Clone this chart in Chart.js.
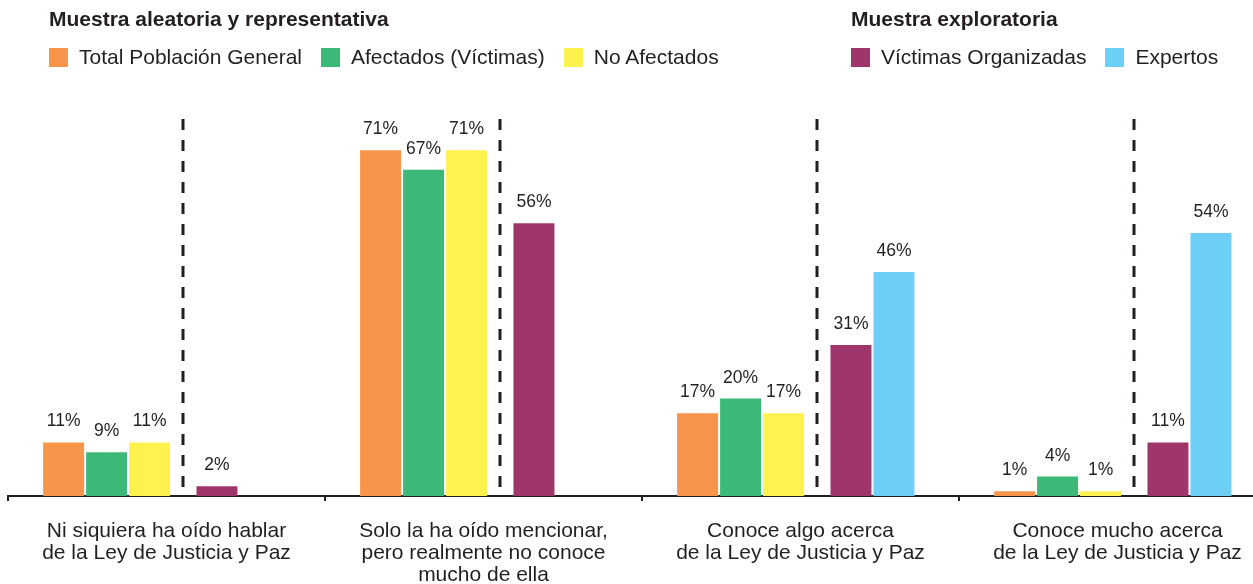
<!DOCTYPE html>
<html lang="es">
<head>
<meta charset="utf-8">
<title>Conocimiento de la Ley de Justicia y Paz</title>
<script src="https://cdn.jsdelivr.net/npm/chart.js@4.4.1/dist/chart.umd.min.js"></script>
<style>
    body { margin: 0; background: #fff; overflow: hidden; font-family: 'Liberation Sans', Arial, sans-serif; color: #231f20; }
    #wrap { position: relative; width: 1276px; height: 584px; }
    .legend { position: absolute; top: 8px; z-index: 2; }
    .legend h4 { margin: 0; font-size: 21px; font-weight: bold; line-height: 22px; white-space: nowrap; }
    .legend .items { display: flex; align-items: center; margin-top: 16px; font-size: 21px; line-height: 22px; white-space: nowrap; }
    .legend .item { display: flex; align-items: center; margin-right: 19px; }
    .legend .sw { width: 19px; height: 19px; margin-right: 11px; }
</style>
</head>
<body>
<div id="wrap">
    <div class="legend" id="legendA" style="left: 49px;"></div>
    <div class="legend" id="legendB" style="left: 851px;"></div>
    <canvas id="chart"></canvas>
</div>
<script>
const categories = [
    ['Ni siquiera ha oído hablar', 'de la Ley de Justicia y Paz'],
    ['Solo la ha oído mencionar,', 'pero realmente no conoce', 'mucho de ella'],
    ['Conoce algo acerca', 'de la Ley de Justicia y Paz'],
    ['Conoce mucho acerca', 'de la Ley de Justicia y Paz']
];

// Muestra aleatoria y representativa
const totalPoblacion = [11, 71, 17, 1];
const afectados = [9, 67, 20, 4];
const noAfectados = [11, 71, 17, 1];

// Muestra exploratoria
const victimasOrganizadas = [2, 56, 31, 11];
const expertos = [null, null, 46, 54];

const groupTitles = ['Muestra aleatoria y representativa', 'Muestra exploratoria'];

const colors = {
    total: '#f7964a',
    afectados: '#3cb878',
    noAfectados: '#fff250',
    victimas: '#9e366b',
    expertos: '#6dcff6'
};
const textColor = '#231f20';

const seriesA = [
    { label: 'Total Población General', data: totalPoblacion, color: colors.total },
    { label: 'Afectados (Víctimas)', data: afectados, color: colors.afectados },
    { label: 'No Afectados', data: noAfectados, color: colors.noAfectados }
];
const seriesB = [
    { label: 'Víctimas Organizadas', data: victimasOrganizadas, color: colors.victimas },
    { label: 'Expertos', data: expertos, color: colors.expertos }
];

function buildLegend(el, title, series) {
    const h = document.createElement('h4');
    h.textContent = title;
    el.appendChild(h);
    const row = document.createElement('div');
    row.className = 'items';
    series.forEach(s => {
        const item = document.createElement('div');
        item.className = 'item';
        const sw = document.createElement('span');
        sw.className = 'sw';
        sw.style.background = s.color;
        const txt = document.createElement('span');
        txt.textContent = s.label;
        item.appendChild(sw);
        item.appendChild(txt);
        row.appendChild(item);
    });
    el.appendChild(row);
}
buildLegend(document.getElementById('legendA'), groupTitles[0], seriesA);
buildLegend(document.getElementById('legendB'), groupTitles[1], seriesB);

// layout inside a category, in category widths
const slot = 0.1356;          // one bar + its gap
const centerA = -0.189;       // representative sample, left of the divider
const centerB = 0.227;        // exploratory sample, right of the divider

// every series gets its own hidden index scale, shifted to its slot
const hiddenIndexAxis = (shift) => ({
    type: 'linear',
    display: false,
    offset: false,
    bounds: 'data',
    min: -0.5 - shift,
    max: categories.length - 0.5 - shift,
    afterBuildTicks(scale) {
        scale.ticks = categories.map((_, i) => ({ value: i }));
    }
});

const datasets = [];
const scales = {};
function addSeries(s, id, shift) {
    scales[id] = hiddenIndexAxis(shift);
    datasets.push({
        label: s.label,
        data: s.data.map((v, i) => ({ x: i, y: v })),
        backgroundColor: s.color,
        xAxisID: id,
        grouped: false,
        categoryPercentage: slot,
        barPercentage: 0.953
    });
}
seriesA.forEach((s, k) => addSeries(s, 'xa' + k, centerA + (k - 1) * slot));
seriesB.forEach((s, k) => addSeries(s, 'xb' + k, centerB + (k - 0.5) * slot));

const valueLabels = {
    id: 'valueLabels',
    afterDatasetsDraw(chart) {
        const ctx = chart.ctx;
        ctx.save();
        ctx.font = '17.5px "Liberation Sans", Arial, sans-serif';
        ctx.fillStyle = textColor;
        ctx.textAlign = 'center';
        ctx.textBaseline = 'alphabetic';
        chart.data.datasets.forEach((ds, i) => {
            const meta = chart.getDatasetMeta(i);
            meta.data.forEach((bar, j) => {
                const v = ds.data[j].y;
                if (v === null || v === undefined) return;
                ctx.fillText(v + '%', bar.x, bar.y - 16);
            });
        });
        ctx.restore();
    }
};

const sampleDivider = {
    id: 'sampleDivider',
    afterDraw(chart) {
        const ctx = chart.ctx;
        const yellow = chart.getDatasetMeta(2).data;
        const purple = chart.getDatasetMeta(3).data;
        const top = chart.scales.y.getPixelForValue(77.4);
        const bottom = chart.chartArea.bottom;
        ctx.save();
        ctx.strokeStyle = textColor;
        ctx.lineWidth = 3;
        ctx.setLineDash([11, 10]);
        yellow.forEach((bar, j) => {
            const x = Math.round((bar.x + bar.width / 2 + purple[j].x - purple[j].width / 2) / 2);
            ctx.beginPath();
            ctx.moveTo(x, top);
            ctx.lineTo(x, bottom);
            ctx.stroke();
        });
        ctx.restore();
    }
};

Chart.defaults.font.family = '"Liberation Sans", Arial, sans-serif';
Chart.defaults.color = textColor;

scales.x = {
    type: 'category',
    grid: {
        display: true,
        offset: true,
        drawOnChartArea: false,
        drawTicks: true,
        tickLength: 5,
        color: textColor,
        lineWidth: 2
    },
    border: { display: true, color: textColor, width: 2 },
    ticks: {
        color: textColor,
        padding: 19,
        maxRotation: 0,
        autoSkip: false,
        font: { size: 21, lineHeight: 1.05 }
    },
    afterFit(scale) {
        scale.height = 88;
    }
};
scales.y = {
    display: false,
    min: 0,
    max: 100
};

new Chart(document.getElementById('chart').getContext('2d'), {
    type: 'bar',
    data: {
        labels: categories,
        datasets: datasets
    },
    options: {
        responsive: true,
        maintainAspectRatio: false,
        animation: false,
        layout: {
            padding: { top: 9, left: 8, right: 0, bottom: 0 }
        },
        plugins: {
            legend: { display: false },
            tooltip: { enabled: false }
        },
        scales: scales
    },
    plugins: [valueLabels, sampleDivider]
});
</script>
</body>
</html>
